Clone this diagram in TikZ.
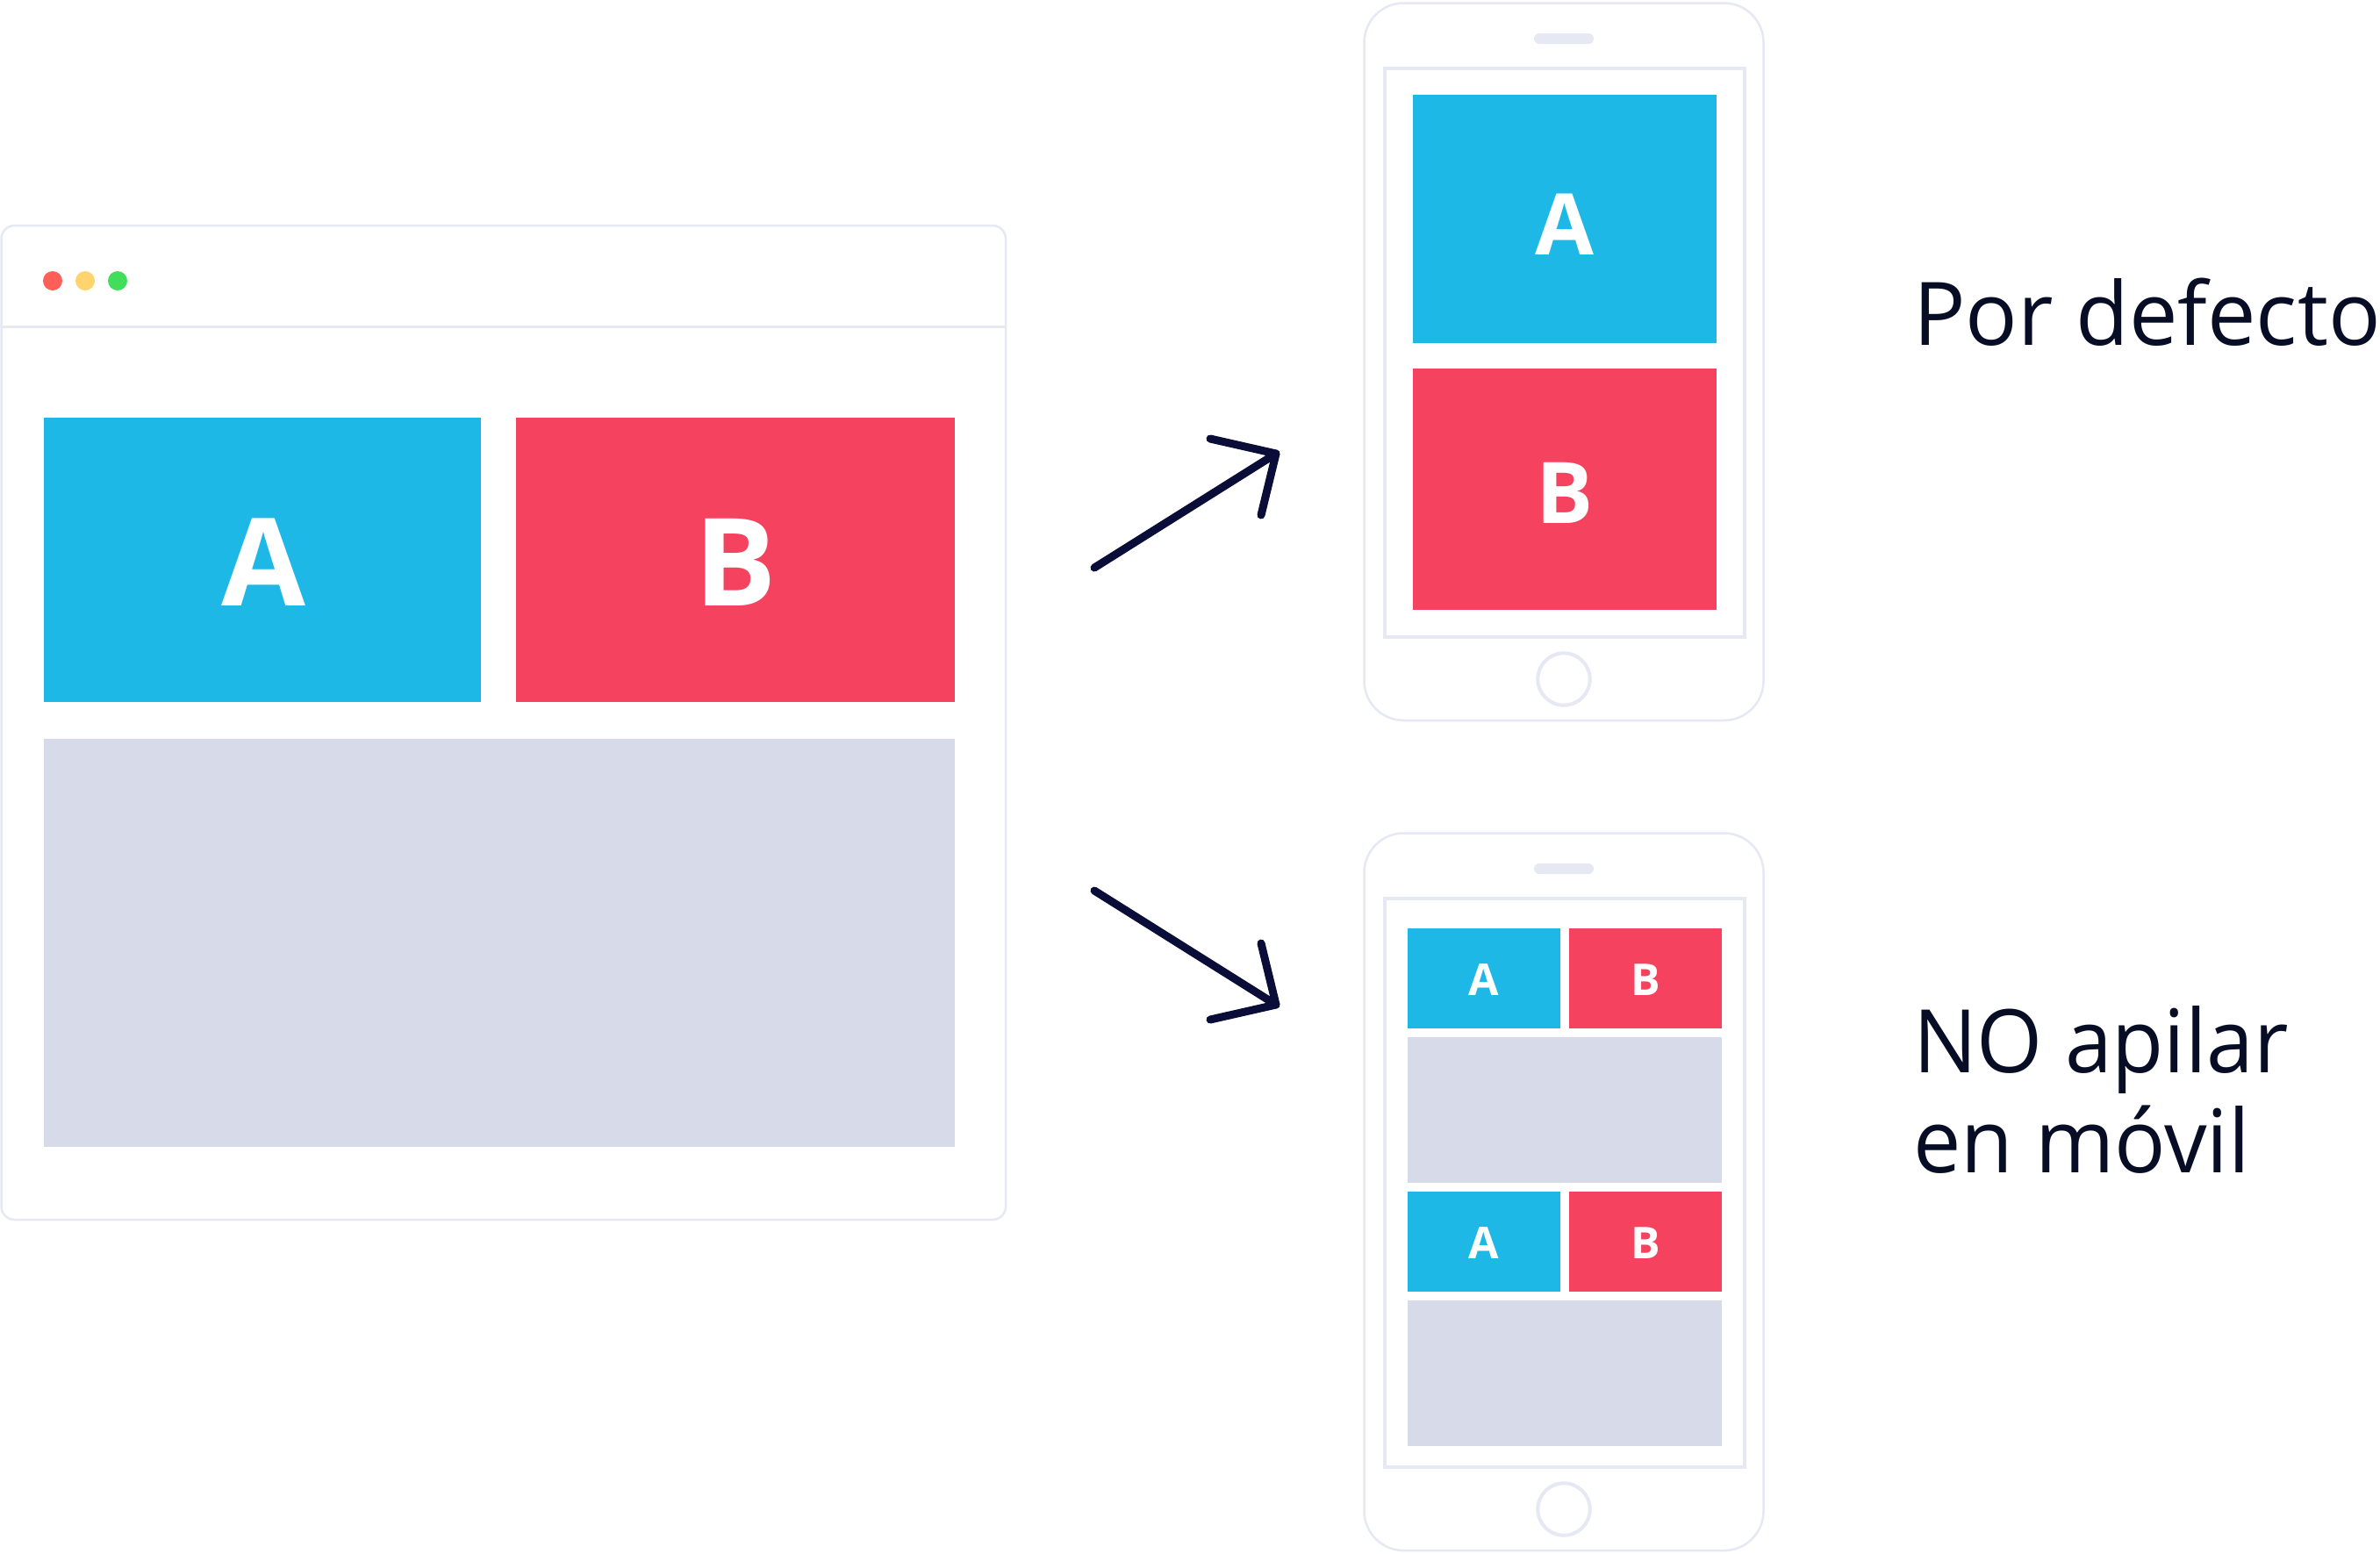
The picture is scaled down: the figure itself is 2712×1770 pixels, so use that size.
\documentclass[tikz,border=0pt]{standalone}
\usepackage{fontspec}
\usepackage{graphicx}
\setmainfont{Open Sans}
\usetikzlibrary{calc}
\definecolor{cblue}{HTML}{1EB8E6}
\definecolor{cred}{HTML}{F5435F}
\definecolor{cgray}{HTML}{D7DAE8}
\definecolor{cline}{HTML}{E6E8F4}
\definecolor{cnavy}{HTML}{0A0D38}
\definecolor{ctext}{HTML}{070D24}
\definecolor{dred}{HTML}{FF5F57}
\definecolor{dyel}{HTML}{FFD36E}
\definecolor{dgrn}{HTML}{42DD5B}
\newcommand{\sqz}[2]{\scalebox{#1}[1]{#2}}
\tikzset{
  frame/.style={draw=cline, line width=2.5pt},
  screen/.style={draw=cline, line width=4pt},
  bluebox/.style={fill=cblue},
  redbox/.style={fill=cred},
  graybox/.style={fill=cgray},
  bigletter/.style={text=white, font=\bfseries\fontsize{139}{139}\selectfont, inner sep=0pt},
  midletter/.style={text=white, font=\bfseries\fontsize{97}{97}\selectfont, inner sep=0pt},
  smallletter/.style={text=white, font=\bfseries\fontsize{50}{50}\selectfont, inner sep=0pt},
  arrowline/.style={draw=cnavy, line width=9pt, line cap=round, line join=round},
  caption/.style={text=ctext, font=\fontsize{100}{114}\selectfont, inner sep=0pt, anchor=base west},
}
\begin{document}
\begin{tikzpicture}[x=1pt, y=-1pt]
\useasboundingbox (0,0) rectangle (2712,1770);
\fill[white] (0,0) rectangle (2712,1770);
% browser window
\draw[frame, rounded corners=15pt] (1.5,257) rectangle (1146,1390);
\draw[frame] (2.5,372.5) -- (1145,372.5);
\fill[dred] (60,320) circle (11pt);
\fill[dyel] (97,320) circle (11pt);
\fill[dgrn] (134,320) circle (11pt);
\fill[bluebox] (50,476) rectangle (548,800);
\fill[redbox] (588,476) rectangle (1088,800);
\fill[graybox] (50,842) rectangle (1088,1307);
\node[bigletter] (bA) at (300,641) {A};
\node[bigletter] (bB) at (838,641) {B};
% phone 1
\draw[frame, rounded corners=45pt] (1554.5,3.5) rectangle (2009.5,821);
\fill[cline, rounded corners=6pt] (1748,38) rectangle (1816,50);
\draw[screen] (1578,78) rectangle (1988,726);
\draw[screen] (1782,774) circle (29.7pt);
\fill[bluebox] (1610,108) rectangle (1956,391);
\fill[redbox] (1610,420) rectangle (1956,695);
\node[midletter] (p1A) at (1783,256) {A};
\node[midletter] (p1B) at (1783,562) {B};
% phone 2
\begin{scope}[yshift=-946pt]
\draw[frame, rounded corners=45pt] (1554.5,3.5) rectangle (2009.5,821);
\fill[cline, rounded corners=6pt] (1748,38) rectangle (1816,50);
\draw[screen] (1578,78) rectangle (1988,726);
\draw[screen] (1782,774) circle (29.7pt);
\end{scope}
\fill[bluebox] (1604,1058) rectangle (1778,1172);
\fill[redbox] (1788,1058) rectangle (1962,1172);
\fill[graybox] (1604,1182) rectangle (1962,1348);
\fill[bluebox] (1604,1358) rectangle (1778,1472);
\fill[redbox] (1788,1358) rectangle (1962,1472);
\fill[graybox] (1604,1482) rectangle (1962,1648);
\node[smallletter] (s1A) at (1691,1117) {A};
\node[smallletter] (s1B) at (1875,1117) {B};
\node[smallletter] (s2A) at (1691,1417) {A};
\node[smallletter] (s2B) at (1875,1417) {B};
% arrows
\coordinate (a1s) at (1247,647);
\coordinate (a1e) at (1454,517);
\coordinate (a2s) at (1247,1015);
\coordinate (a2e) at (1454,1145);
\draw[arrowline] (a1s) -- (a1e);
\draw[arrowline] ($(a1e)+(-75,-17)$) -- (a1e) -- ($(a1e)+(-17,70)$);
\draw[arrowline] (a2s) -- (a2e);
\draw[arrowline] ($(a2e)+(-75,17)$) -- (a2e) -- ($(a2e)+(-17,-70)$);
% captions
\node[caption] (t1) at (2180,393) {\sqz{0.99}{Por defecto}};
\node[caption, align=left] (t2) at (2180,1336) {\sqz{0.965}{NO apilar}\\\sqz{0.97}{en móvil}};
\end{tikzpicture}
\end{document}
